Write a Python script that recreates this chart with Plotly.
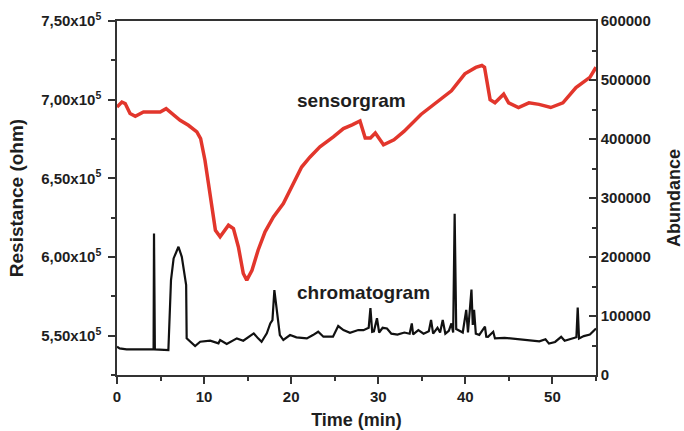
import plotly.graph_objects as go

# Sensorgram: sensor resistance (ohm) vs retention time (min)
sensor_time = [0, 0.56, 0.94, 1.5, 2.1, 3.04, 4.2, 4.96, 5.64, 6.3, 7.25, 8.2, 9.17, 9.6,
               10.1, 10.5, 10.9, 11.3, 11.84, 12.8, 13.37, 13.94, 14.5, 14.9, 15.5, 16.2,
               17.0, 17.96, 19.1, 19.87, 21.2, 22.17, 23.3, 24.84, 26.0, 27.0, 27.9, 28.5,
               29.1, 29.66, 30.6, 31.8, 32.95, 34.9, 36.45, 38.4, 39.94, 41.2, 41.9, 42.2,
               42.84, 43.4, 44.4, 44.97, 46.1, 47.3, 48.46, 49.8, 51.2, 52.7, 54.3, 55.0]
sensor_resistance = [695400, 698500, 697500, 691200, 689400, 692200, 692200, 692200, 694300,
                     691200, 686900, 683700, 679500, 675300, 661500, 646700, 629700, 617000,
                     612800, 620200, 618100, 606400, 589500, 585300, 591600, 604300, 616000,
                     625500, 634000, 642400, 657200, 663600, 670000, 676300, 681600, 684000,
                     686500, 675600, 675600, 678800, 671300, 674500, 679800, 690600, 697100,
                     705600, 716400, 720500, 721700, 720600, 700000, 698000, 703500, 698000,
                     695000, 698000, 697000, 695000, 698000, 707700, 714200, 720600]

# Chromatogram: total ion abundance vs retention time (min)
chrom_time = [0, 0.3, 1.1, 4.2, 4.25, 4.35, 5.9, 6.2, 6.5, 7.06, 7.44, 7.94, 8.0, 8.4, 8.97,
              9.55, 10.7, 11.65, 11.84, 12.6, 13.76, 14.5, 15.1, 15.7, 16.2, 16.6, 17.2, 17.6,
              17.85, 18.07, 18.35, 18.7, 19.1, 19.87, 20.6, 21.8, 22.5, 23.1, 23.7, 24.8, 25.4,
              26.0, 26.75, 27.7, 28.3, 28.9, 29.1, 29.3, 29.5, 29.85, 30.1, 30.5, 31.0, 31.5,
              32.2, 33.0, 33.6, 33.85, 34.0, 34.6, 35.2, 35.8, 36.06, 36.3, 36.8, 37.1, 37.4,
              37.7, 38.1, 38.4, 38.6, 38.77, 38.95, 39.3, 39.7, 40.1, 40.3, 40.7, 40.85, 41.0,
              41.2, 41.6, 42.25, 42.4, 42.6, 43.2, 43.4, 44.5, 45.4, 46.5, 47.7, 48.5, 49.2,
              49.6, 50.3, 51.0, 51.4, 52.3, 52.75, 52.9, 53.05, 53.6, 54.3, 54.8, 55.0]
chrom_abundance = [47900, 45000, 43500, 43500, 240000, 43500, 42300, 160900, 197600, 217300,
                   200300, 152400, 62100, 56400, 49100, 56400, 58100, 53700, 59300, 52500,
                   62100, 58100, 64900, 70600, 62100, 56400, 70600, 87500, 93100, 144000,
                   110000, 67700, 59300, 67700, 63800, 62100, 67700, 73300, 64900, 64900,
                   83000, 76200, 71600, 76200, 76000, 80000, 113300, 73200, 74000, 96200,
                   72000, 80000, 78900, 70000, 68600, 72000, 70000, 87500, 69000, 76000,
                   70000, 74000, 93300, 70000, 80000, 72000, 93300, 70000, 75000, 87500,
                   72000, 273500, 78000, 75000, 72000, 110400, 72000, 144800, 85000, 110400,
                   70000, 68000, 81800, 65000, 64700, 73200, 62000, 63000, 61800, 60000,
                   58900, 57000, 60600, 53200, 56000, 64700, 58000, 61800, 64000, 114500,
                   62000, 66000, 68600, 76000, 78900]

# Axis ticks
resistance_ticks = [550000, 600000, 650000, 700000, 750000]
resistance_labels = ["5,50x10<sup>5</sup>", "6,00x10<sup>5</sup>", "6,50x10<sup>5</sup>",
                     "7,00x10<sup>5</sup>", "7,50x10<sup>5</sup>"]
resistance_minor = [525000, 575000, 625000, 675000, 725000]
abundance_ticks = [0, 100000, 200000, 300000, 400000, 500000, 600000]
abundance_minor = [50000, 150000, 250000, 350000, 450000, 550000]
time_ticks = [0, 10, 20, 30, 40, 50]
time_minor = [5, 15, 25, 35, 45, 55]

FONT = "Liberation Sans, Arial, sans-serif"
AXIS_COLOR = "#333333"
TEXT_COLOR = "#1e1e1e"

fig = go.Figure()
fig.add_trace(go.Scatter(x=chrom_time, y=chrom_abundance, mode="lines", yaxis="y2",
                         line=dict(color="#111111", width=2.2), showlegend=False))
fig.add_trace(go.Scatter(x=sensor_time, y=sensor_resistance, mode="lines", yaxis="y",
                         line=dict(color="#e2362c", width=3.5), showlegend=False))

fig.update_layout(
    width=684, height=431,
    margin=dict(l=117, r=88, t=21, b=56),
    paper_bgcolor="white", plot_bgcolor="white",
    font=dict(family=FONT, size=15, color=TEXT_COLOR, weight="bold"),
    xaxis=dict(
        range=[0, 55], tickmode="array", tickvals=time_ticks, automargin=False,
        showline=True, linecolor=AXIS_COLOR, linewidth=1.5, mirror=True,
        ticks="outside", ticklen=7, tickwidth=1.5, tickcolor=AXIS_COLOR,
        minor=dict(tickmode="array", tickvals=time_minor, ticks="outside",
                   ticklen=4, tickwidth=1.5, tickcolor=AXIS_COLOR),
        showgrid=False, zeroline=False,
        tickfont=dict(size=15, weight="bold"),
        title=dict(text="Time (min)", font=dict(size=18, weight="bold"), standoff=10),
    ),
    yaxis=dict(
        range=[525000, 750000], tickmode="array", tickvals=resistance_ticks,
        ticktext=resistance_labels, automargin=False, ticklabelstandoff=4,
        showline=True, linecolor=AXIS_COLOR, linewidth=1.5,
        ticks="outside", ticklen=7, tickwidth=1.5, tickcolor=AXIS_COLOR,
        minor=dict(tickmode="array", tickvals=resistance_minor, ticks="outside",
                   ticklen=4, tickwidth=1.5, tickcolor=AXIS_COLOR),
        showgrid=False, zeroline=False,
        tickfont=dict(size=15, weight="bold"),
        title=dict(text="Resistance (ohm)", font=dict(size=19, weight="bold"), standoff=13),
    ),
    yaxis2=dict(
        range=[0, 600000], overlaying="y", side="right", anchor="x", automargin=False,
        tickmode="array", tickvals=abundance_ticks, tickformat="d",
        showline=True, linecolor=AXIS_COLOR, linewidth=1.5,
        ticks="inside", ticklen=7, tickwidth=1.5, tickcolor=AXIS_COLOR,
        minor=dict(tickmode="array", tickvals=abundance_minor,
                   ticks="inside", ticklen=4, tickwidth=1.5, tickcolor=AXIS_COLOR),
        showgrid=False, zeroline=False,
        tickfont=dict(size=15, weight="bold"),
        title=dict(text="Abundance", font=dict(size=18, weight="bold"), standoff=18),
    ),
    annotations=[
        dict(text="sensorgram", x=20.45, y=699600, xref="x", yref="y",
             xanchor="left", yanchor="middle", showarrow=False,
             font=dict(size=19, weight="bold", color=TEXT_COLOR)),
        dict(text="chromatogram", x=20.45, y=140600, xref="x", yref="y2",
             xanchor="left", yanchor="middle", showarrow=False,
             font=dict(size=19, weight="bold", color=TEXT_COLOR)),
    ],
)

fig.write_html("out.html")
